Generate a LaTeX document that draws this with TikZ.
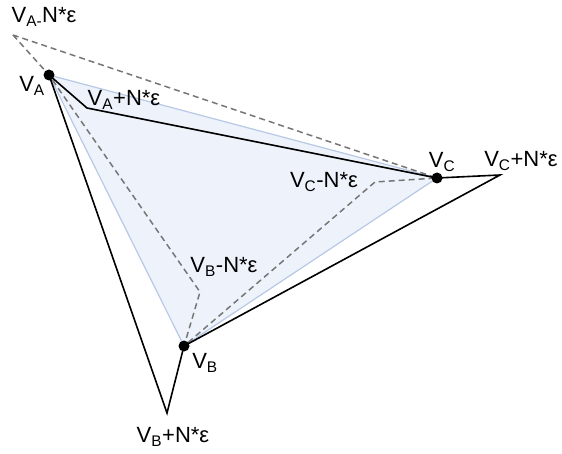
\documentclass[tikz,border=0pt]{standalone}
\usepackage{fontspec}
\setmainfont{Liberation Sans}
\usetikzlibrary{backgrounds}
\definecolor{Shade}{HTML}{EEF3FB}
\definecolor{ShadeLine}{HTML}{B7C9E5}
\definecolor{DashGray}{HTML}{767676}
\newcommand{\vlab}[2]{V\textsubscript{#1}#2}

\begin{document}
\begin{tikzpicture}[
  x=1pt, y=-1pt,
  font=\fontsize{22}{26}\selectfont,
  vertex/.style={circle, fill=black, inner sep=0pt, minimum size=11pt},
  hull/.style={draw=ShadeLine, line width=1.2pt, fill=Shade, line join=round},
  outer/.style={draw=black, line width=1.6pt, line join=miter},
  inner/.style={draw=DashGray, line width=1.5pt, dash pattern=on 6pt off 4pt},
  lab/.style={inner sep=0pt}
]
\useasboundingbox (0,0) rectangle (562,454);

% The three vertices and their shifted copies.
\coordinate (vA) at (49,75);
\coordinate (vB) at (184,346);
\coordinate (vC) at (437,178);
\coordinate (vAp) at (87,108);
\coordinate (vBp) at (167,413);
\coordinate (vCp) at (500,175);
\coordinate (vAm) at (13,35);
\coordinate (vBm) at (200,292);
\coordinate (vCm) at (375,182);

% Shaded triangle, then the two perturbed outlines.
\fill[hull] (vA) -- (vB) -- (vC) -- cycle;
\draw[inner] (vAm) -- (vA) -- (vBm) -- (vB) -- (vCm) -- (vC) -- cycle;
\draw[outer] (vA) -- (vAp) -- (vC) -- (vCp) -- (vB) -- (vBp) -- cycle;

\node[vertex] (dotA) at (vA) {};
\node[vertex] (dotB) at (vB) {};
\node[vertex] (dotC) at (vC) {};

% Labels.
\node[lab] (labAm) at (44,17) {\vlab{A-}{N*ε}};
\node[lab] (labA) at (32,86) {\vlab{A}{}};
\node[lab] (labAp) at (124,100) {\vlab{A}{+N*ε}};
\node[lab] (labC) at (442,162) {\vlab{C}{}};
\node[lab] (labCp) at (521,161) {\vlab{C}{+N*ε}};
\node[lab] (labCm) at (324,182) {\vlab{C}{-N*ε}};
\node[lab] (labBm) at (224,267) {\vlab{B}{-N*ε}};
\node[lab] (labB) at (205,363) {\vlab{B}{}};
\node[lab] (labBp) at (173,437) {\vlab{B}{+N*ε}};
\end{tikzpicture}
\end{document}
